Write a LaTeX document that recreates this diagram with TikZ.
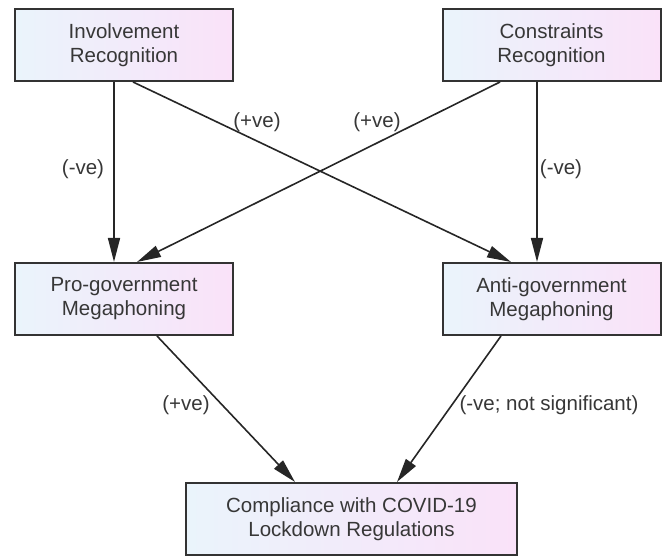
\documentclass[tikz,border=0pt]{standalone}
\usepackage{fontspec}
\setmainfont{Liberation Sans}
\usetikzlibrary{arrows.meta}
\definecolor{boxleft}{RGB}{234,244,251}
\definecolor{boxright}{RGB}{250,226,249}
\definecolor{ink}{RGB}{55,55,55}
\tikzset{
  factor/.style={draw=black!80, line width=2pt, left color=boxleft, right color=boxright,
    minimum width=218pt, minimum height=72pt, inner sep=0pt, align=center, text=ink,
    font=\fontsize{20.5}{24}\selectfont},
  link/.style={draw=black!85, line width=1.6pt, -{Triangle[length=24pt,width=12pt]}},
  sign/.style={text=ink, inner sep=0pt, font=\fontsize{20.5}{24}\selectfont}
}

\begin{document}
\begin{tikzpicture}[x=1pt, y=-1pt]
		%%%%% START %%%%%
		\useasboundingbox (0, 0) rectangle (662, 556);
		
		\node[factor] (inv) at (124, 45) {Involvement\\Recognition};
		\node[factor] (con) at (551.5, 45) {Constraints\\Recognition};
		\node[factor] (pro) at (124, 299) {Pro-government\\Megaphoning};
		\node[factor] (anti) at (551.5, 299) {Anti-government\\Megaphoning};
		\node[factor, minimum width=331pt] (comp) at (351.5, 519) {Compliance with COVID-19\\Lockdown Regulations};
		
		\draw[link] ([xshift=-10pt]inv.south) -- ([xshift=-10pt]pro.north);
		\draw[link] ([xshift=9pt]inv.south) -- ([xshift=-40.5pt]anti.north);
		\draw[link] ([xshift=-51.5pt]con.south) -- ([xshift=13pt]pro.north);
		\draw[link] ([xshift=-14.5pt]con.south) -- ([xshift=-14.5pt]anti.north);
		
		\draw[link] ([xshift=33pt]pro.south) -- ([xshift=-56.5pt]comp.north);
		\draw[link] ([xshift=-50.5pt]anti.south) -- ([xshift=45.5pt]comp.north);
		
		\node[sign] (s1) at (83, 169) {(-ve)};
		\node[sign] (s2) at (257, 122) {(+ve)};
		\node[sign] (s3) at (377, 122) {(+ve)};
		\node[sign] (s4) at (561, 169) {(-ve)};
		\node[sign] (s5) at (186, 405) {(+ve)};
		\node[sign] (s6) at (549, 405) {(-ve; not significant)};
		
		%%%%% END %%%%%
	\end{tikzpicture}
\end{document}
